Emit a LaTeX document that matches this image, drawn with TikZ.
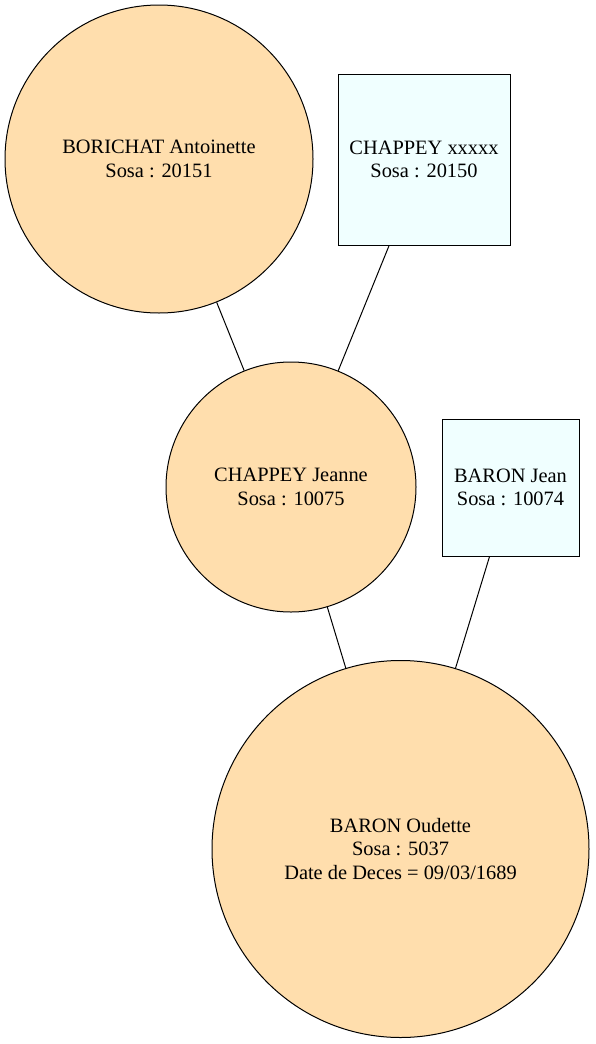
\documentclass[tikz,border=0pt]{standalone}
\usepackage{fontspec}
\setmainfont{Liberation Serif}
\definecolor{navajo}{HTML}{FFDEAD}
\definecolor{azur}{HTML}{F0FFFF}

\begin{document}
\begin{tikzpicture}[x=1pt,y=-1pt,
  femme/.style={circle,draw,fill=navajo,line width=1pt,inner sep=0pt,align=center,
    font=\fontsize{20.4}{23.5}\selectfont},
  homme/.style={rectangle,draw,fill=azur,line width=1pt,inner sep=0pt,align=center,
    font=\fontsize{20.4}{23.5}\selectfont}]
\useasboundingbox (0,0) rectangle (595,1044);
\node[femme,minimum size=308pt] (borichat) at (159,159) {BORICHAT Antoinette\\Sosa : 20151};
\node[homme,minimum width=172pt,minimum height=171pt] (chappeyx) at (424,159.5) {CHAPPEY xxxxx\\Sosa : 20150};
\node[femme,minimum size=250pt] (jeanne) at (291,487) {CHAPPEY Jeanne\\Sosa : 10075};
\node[homme,minimum width=137pt,minimum height=137pt] (jean) at (510.5,487.5) {BARON Jean\\Sosa : 10074};
\node[femme,minimum size=377pt] (oudette) at (400.5,849) {BARON Oudette\\Sosa : 5037\\Date de Deces = 09/03/1689};
\draw[line width=1pt] (borichat) -- (jeanne);
\draw[line width=1pt] (chappeyx) -- (jeanne);
\draw[line width=1pt] (jeanne) -- (oudette);
\draw[line width=1pt] (jean) -- (oudette);
\end{tikzpicture}
\end{document}
